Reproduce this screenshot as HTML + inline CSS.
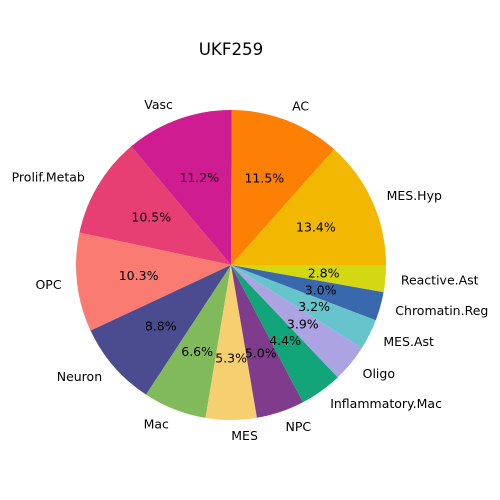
<!DOCTYPE html>
<html><head><meta charset="utf-8"><style>
html,body{margin:0;padding:0;background:#fff;}
svg{display:block;font-family:"DejaVu Sans","Liberation Sans",sans-serif;}
</style></head><body>
<svg id="chart" width="500" height="500">
<text x="231" y="55" text-anchor="middle" font-size="16.7">UKF259</text>
<g id="slices"></g><g id="labels"></g>
</svg>
<script>
const categories=["MES.Hyp","AC","Vasc","Prolif.Metab","OPC","Neuron","Mac","MES","NPC","Inflammatory.Mac","Oligo","MES.Ast","Chromatin.Reg","Reactive.Ast"];
const values=[13.4,11.5,11.2,10.5,10.3,8.8,6.6,5.3,5.0,4.4,3.9,3.2,3.0,2.8];
const colors=["#f2b701","#fd7f03","#cf1c90","#e73f74","#f97b72","#4b4b8f","#80ba5a","#f6cf71","#7f3c8d","#11a579","#aca3e3","#66c5cc","#3969ac","#d4d812"];
const cx=231,cy=265,R=155;
const NS="http://www.w3.org/2000/svg";
const total=values.reduce((a,b)=>a+b,0);
const gS=document.getElementById('slices'),gL=document.getElementById('labels');
let a0=0;
values.forEach((v,i)=>{
  const a1=a0+v/total*2*Math.PI;
  const x0=cx+R*Math.cos(a0),y0=cy-R*Math.sin(a0),x1=cx+R*Math.cos(a1),y1=cy-R*Math.sin(a1);
  const p=document.createElementNS(NS,'path');
  p.setAttribute('d',`M${cx},${cy}L${x0},${y0}A${R},${R} 0 ${a1-a0>Math.PI?1:0} 0 ${x1},${y1}Z`);
  p.setAttribute('fill',colors[i]);
  
  
  gS.appendChild(p);
  const am=(a0+a1)/2,c=Math.cos(am),s=Math.sin(am);
  const t=document.createElementNS(NS,'text');
  t.setAttribute('x',cx+1.1*R*c);t.setAttribute('y',cy-1.1*R*s);
  t.setAttribute('text-anchor',c>=0?'start':'end');t.setAttribute('dominant-baseline','central');
  t.setAttribute('font-size','12.5');t.textContent=categories[i];
  
  
  gL.appendChild(t);
  const q=document.createElementNS(NS,'text');
  q.setAttribute('x',cx+0.6*R*c);q.setAttribute('y',cy-0.6*R*s);
  q.setAttribute('text-anchor','middle');q.setAttribute('dominant-baseline','central');
  q.setAttribute('font-size','12.5');q.textContent=v.toFixed(1)+'%';
  
  
  gL.appendChild(q);
  a0=a1;
});
</script>
</body></html>
